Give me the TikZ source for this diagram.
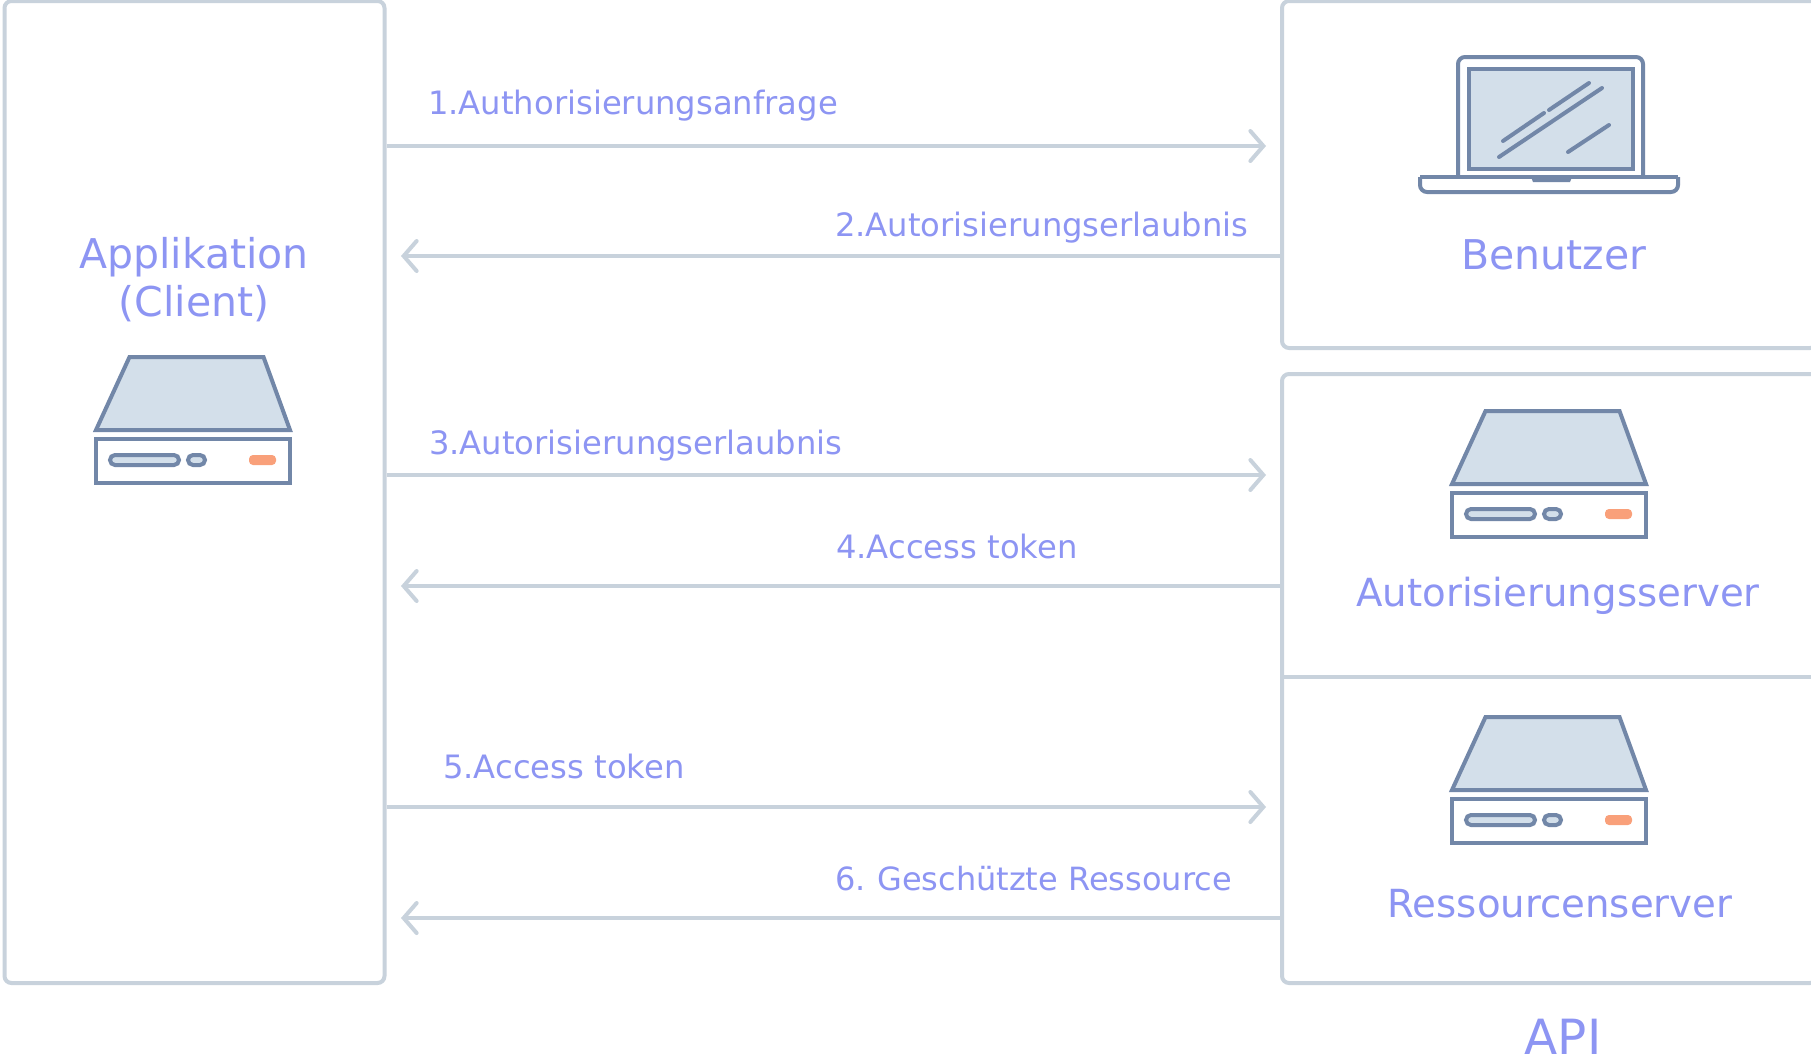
\documentclass[tikz,border=0pt]{standalone}
\usepackage{fontspec}
\setmainfont{DejaVu Sans}
\usetikzlibrary{arrows.meta}
\definecolor{edgeC}{HTML}{C8D2DC}
\definecolor{inkC}{HTML}{7287A8}
\definecolor{fillC}{HTML}{D3DFEA}
\definecolor{orangeC}{HTML}{F9A07A}
\definecolor{textC}{HTML}{8D95F3}
\tikzset{
  panel/.style={draw=edgeC,line width=4pt,rounded corners=7pt,fill=white,inner sep=0pt},
  flow/.style={draw=edgeC,line width=4pt,-{Straight Barb[length=13pt,width=30pt,line cap=round]}},
  steplabel/.style={text=textC,anchor=base west,inner sep=0pt,font=\fontsize{32.2}{38}\selectfont},
  biglabel/.style={text=textC,anchor=base,inner sep=0pt,font=\fontsize{38.7}{46}\selectfont},
  biglabelb/.style={text=textC,anchor=base,inner sep=0pt,font=\fontsize{41}{49}\selectfont},
  icon/.style={draw=inkC,line width=4pt},
  server/.pic={
    \draw[icon,fill=fillC,line join=miter] (-63.5,0) -- (70.5,0) -- (97,73) -- (-97,73) -- cycle;
    \draw[icon,fill=white] (-97,82) rectangle (97,126);
    \draw[icon,fill=fillC,rounded corners=5pt] (-83,98) rectangle (-14,108);
    \draw[icon,fill=fillC,rounded corners=5pt] (-5,98) rectangle (12,108);
    \fill[orangeC,rounded corners=4pt] (56,98) rectangle (83,108);
  }
}
\begin{document}
\begin{tikzpicture}[x=1pt,y=-1pt]
\useasboundingbox[fill=white] (0,0) rectangle (1811,1063);
% panels
\node[panel,minimum width=380pt,minimum height=982pt] (app) at (194.5,492) {};
\node[panel,minimum width=535pt,minimum height=347pt] (user) at (1549.5,174.5) {};
\node[panel,minimum width=535pt,minimum height=609pt] (api) at (1549.5,678.5) {};
\draw[draw=edgeC,line width=3.2pt] (api.west |- 0,677) -- (api.east |- 0,677);
% arrows
\coordinate (t1) at (1266,146);
\coordinate (t2) at (401,256);
\coordinate (t3) at (1266,475);
\coordinate (t4) at (401,586);
\coordinate (t5) at (1266,807);
\coordinate (t6) at (401,918);
\draw[flow] (t1 -| app.east) -- (t1);
\draw[flow] (t2 -| user.west) -- (t2);
\draw[flow] (t3 -| app.east) -- (t3);
\draw[flow] (t4 -| api.west) -- (t4);
\draw[flow] (t5 -| app.east) -- (t5);
\draw[flow] (t6 -| api.west) -- (t6);
% step labels
\node[steplabel] (l1) at (428,114) {1.Authorisierungsanfrage};
\node[steplabel] (l2) at (835,236) {2.Autorisierungserlaubnis};
\node[steplabel] (l3) at (429,454) {3.Autorisierungserlaubnis};
\node[steplabel] (l4) at (836,558) {4.Access token};
\node[steplabel] (l5) at (443,778) {5.Access token};
\node[steplabel,font=\fontsize{32}{38}\selectfont] (l6) at (835,890) {6.\hspace{-2pt} Geschützte Ressource};
% titles
\node[biglabelb] (n1) at (194,268) {Applikation};
\node[biglabelb] (n2) at (194,316) {(Client)};
\node[biglabelb] (n3) at (1554,269) {Benutzer};
\node[biglabel] (n4) at (1558,606) {Autorisierungsserver};
\node[biglabel] (n5) at (1560,917) {Ressourcenserver};
\node[biglabel,font=\fontsize{48.5}{58}\selectfont] (n6) at (1563,1054) {API};
% servers
\pic at (193,357) {server};
\pic at (1549,411) {server};
\pic at (1549,717) {server};
% laptop
\draw[icon,fill=white,rounded corners=7pt] (1458,177) -- (1458,57) -- (1643,57) -- (1643,177);
\draw[icon,fill=fillC] (1469,69) rectangle (1633,169);
\draw[icon,fill=white,rounded corners=7pt] (1420,177) -- (1420,192) -- (1678,192) -- (1678,177);
\draw[icon,fill=white] (1420,177) -- (1678,177);
\fill[inkC] (1531,177) -- (1572,177) -- (1570,182) -- (1533,182) -- cycle;
\draw[icon,line cap=round] (1503,141) -- (1544,113);
\draw[icon,line cap=round] (1549,110) -- (1589,83);
\draw[icon,line cap=round] (1499,157) -- (1602,88);
\draw[icon,line cap=round] (1568,152) -- (1609,125);
\end{tikzpicture}
\end{document}
